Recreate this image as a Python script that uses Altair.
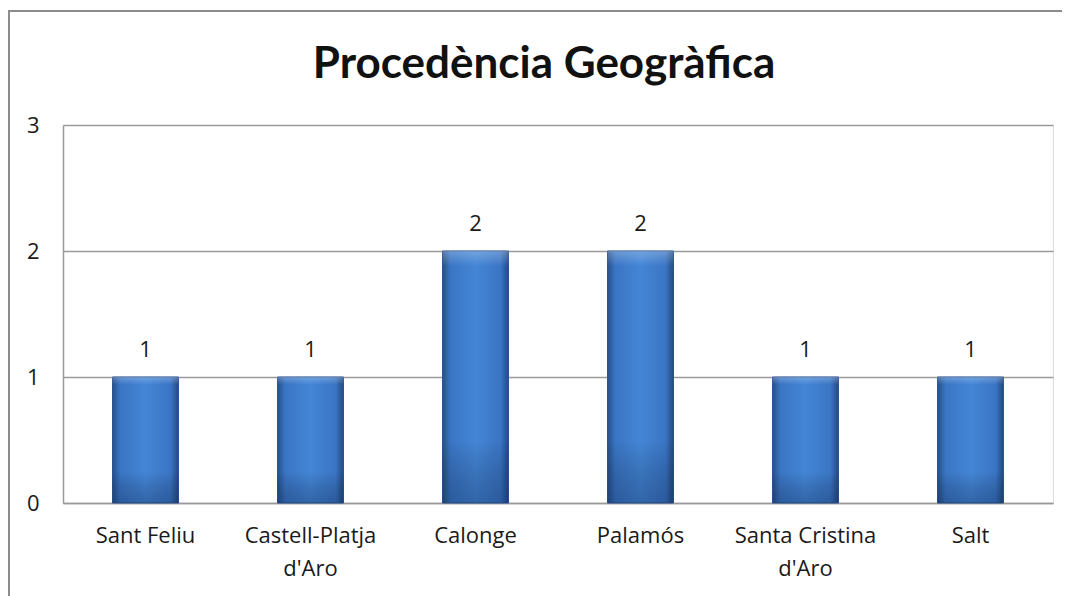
import altair as alt
import pandas as pd

categories = ["Sant Feliu", "Castell-Platja\nd'Aro", "Calonge", "Palamós", "Santa Cristina\nd'Aro", "Salt"]
values = [1, 1, 2, 2, 1, 1]
title_text = "Procedència Geogràfica"
y_ticks = [0, 1, 2, 3]

df = pd.DataFrame({"cat": categories, "val": values})
tdf = pd.DataFrame({"t": [title_text]})

FONT = "Open Sans"
TFONT = "Lato"
LBL = 22

x_enc = alt.X("cat:N", sort=categories,
              scale=alt.Scale(paddingInner=0.6, paddingOuter=0.3),
              axis=alt.Axis(title=None, labelAngle=0, labelFontSize=LBL, labelFont=FONT,
                            labelColor="#1a1a1a", labelPadding=22, ticks=False,
                            domain=True, domainColor="#9a9a9a", domainWidth=1.5,
                            labelExpr="split(datum.label, '\\n')", labelLineHeight=33,
                            labelBaseline="top"))
y_enc = alt.Y("val:Q", scale=alt.Scale(domain=[0, 3], nice=False),
              axis=alt.Axis(title=None, values=y_ticks, format="d", labelFontSize=LBL, labelFont=FONT,
                            labelColor="#1a1a1a", labelPadding=24, ticks=False,
                            domain=True, domainColor="#9a9a9a", domainWidth=1.5,
                            grid=True, gridColor="#9a9a9a", gridWidth=1.5))

grad = alt.Gradient(gradient="linear", x1=0, x2=1, y1=0, y2=0, stops=[
    alt.GradientStop(color="#27508a", offset=0),
    alt.GradientStop(color="#3a75c4", offset=0.12),
    alt.GradientStop(color="#4486d6", offset=0.5),
    alt.GradientStop(color="#3a75c4", offset=0.88),
    alt.GradientStop(color="#244a80", offset=1),
])
shade = alt.Gradient(gradient="linear", x1=0, x2=0, y1=0, y2=1, stops=[
    alt.GradientStop(color="rgba(255,255,255,0.25)", offset=0),
    alt.GradientStop(color="rgba(255,255,255,0)", offset=0.06),
    alt.GradientStop(color="rgba(0,0,0,0)", offset=0.75),
    alt.GradientStop(color="rgba(10,30,70,0.3)", offset=1),
])

bars = alt.Chart(df).mark_bar(fill=grad, stroke="#2a5592", strokeWidth=1).encode(x=x_enc, y=y_enc)
bars_shade = alt.Chart(df).mark_bar(fill=shade).encode(x=alt.X("cat:N", sort=categories), y="val:Q")
labels = alt.Chart(df).mark_text(dy=-27, fontSize=LBL, font=FONT, color="#1a1a1a").encode(
    x=alt.X("cat:N", sort=categories), y="val:Q", text="val:Q")

title = alt.Chart(tdf).mark_text(fontSize=44, font=TFONT, fontWeight="bold", color="#111111",
                                 baseline="alphabetic", align="center").encode(
    x=alt.value(481), y=alt.value(-47), text="t:N")

border_top = alt.Chart(df).mark_rule(color="#8c8c8c", strokeWidth=2).encode(
    x=alt.value(-55), x2=alt.value(1020), y=alt.value(-114))
border_left = alt.Chart(df).mark_rule(color="#8c8c8c", strokeWidth=2).encode(
    x=alt.value(-54), y=alt.value(-114), y2=alt.value(520))

chart = alt.layer(border_top, border_left, bars, bars_shade, labels, title).properties(
    width=990, height=378,
    padding={"left": 55, "top": 117, "right": 9, "bottom": 100},
    autosize=alt.AutoSizeParams(type="none"),
).configure_view(stroke=None).configure(background="white")

chart.save("out.html", embed_options={"renderer": "svg", "actions": False})
